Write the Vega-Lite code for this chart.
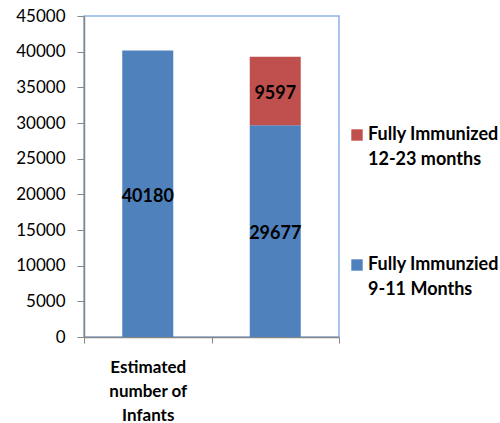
{
  "$schema": "https://vega.github.io/schema/vega-lite/v6.json",
  "autosize": {"type": "none"},
  "padding": {"left": 84, "top": 16, "right": 161, "bottom": 86},
  "width": 255,
  "height": 321,
  "background": "white",
  "config": {
    "font": "Lato",
    "view": {"stroke": "#8DB3E2", "strokeWidth": 1.5},
    "style": {"guide-label": {"lineHeight": 25}}
  },
  "data": {
    "values": [
      {"category": "Estimated number of Infants", "series": "Fully Immunzied 9-11 Months", "value": 40180},
      {"category": "Immunized", "series": "Fully Immunzied 9-11 Months", "value": 29677},
      {"category": "Immunized", "series": "Fully Immunized 12-23 months", "value": 9597}
    ]
  },
  "transform": [
    {"stack": "value", "groupby": ["category"], "as": ["v0", "v1"], "sort": [{"field": "series", "order": "descending"}]}
  ],
  "encoding": {
    "x": {
      "field": "category",
      "type": "nominal",
      "sort": null,
      "scale": {"paddingInner": 0, "paddingOuter": 0},
      "axis": {
        "title": null,
        "labelAngle": 0,
        "tickBand": "extent",
        "domainColor": "#868686",
        "domainWidth": 1.5,
        "tickColor": "#868686",
        "tickSize": 6,
        "labelFont": "Lato",
        "labelFontWeight": "bold",
        "labelFontSize": 17,
        "labelColor": "black",
        "labelPadding": 16,
        "labelLineHeight": 24,
        "labelBaseline": "top",
        "labelExpr": "datum.value == 'Estimated number of Infants' ? ['Estimated', 'number of', 'Infants'] : ''"
      }
    }
  },
  "layer": [
    {
      "mark": {"type": "bar", "width": {"band": 0.4}},
      "encoding": {
        "y": {
          "field": "v0",
          "type": "quantitative",
          "scale": {"domain": [0, 45000], "nice": false},
          "axis": {
            "title": null,
            "grid": false,
            "values": [0, 5000, 10000, 15000, 20000, 25000, 30000, 35000, 40000, 45000],
            "domainColor": "#868686",
            "domainWidth": 1.5,
            "tickColor": "#868686",
            "tickSize": 7,
            "labelPadding": 12,
            "labelFont": "Lato",
            "labelFontSize": 17,
            "labelColor": "black",
            "labelLineHeight": 17,
            "format": "d"
          }
        },
        "y2": {"field": "v1"},
        "color": {
          "field": "series",
          "type": "nominal",
          "scale": {
            "domain": ["Fully Immunized 12-23 months", "Fully Immunzied 9-11 Months"],
            "range": ["#C0504D", "#4F81BD"]
          },
          "legend": {
            "title": null,
            "orient": "none",
            "legendX": 264,
            "legendY": 110,
            "symbolType": "square",
            "symbolSize": 130,
            "symbolStrokeWidth": 0,
            "labelFont": "Lato",
            "labelFontWeight": "bold",
            "labelFontSize": 18,
            "labelColor": "black",
            "labelLimit": 300,
            "labelOffset": 2,
            "rowPadding": 87,
            "labelExpr": "datum.label == 'Fully Immunized 12-23 months' ? ['Fully Immunized', '12-23 months'] : ['Fully Immunzied', '9-11 Months']"
          }
        }
      }
    },
    {
      "transform": [
        {"fold": ["v0", "v1"], "as": ["edge", "pos"]},
        {"aggregate": [{"op": "mean", "field": "pos", "as": "mid"}], "groupby": ["category", "series", "value"]}
      ],
      "mark": {"type": "text", "font": "Lato", "fontWeight": "bold", "fontSize": 18, "color": "black", "baseline": "middle", "dy": 3},
      "encoding": {
        "y": {
          "field": "mid",
          "type": "quantitative",
          "scale": {"domain": [0, 45000], "nice": false},
          "axis": {
            "title": null,
            "grid": false,
            "values": [0, 5000, 10000, 15000, 20000, 25000, 30000, 35000, 40000, 45000],
            "domainColor": "#868686",
            "domainWidth": 1.5,
            "tickColor": "#868686",
            "tickSize": 7,
            "labelPadding": 12,
            "labelFont": "Lato",
            "labelFontSize": 17,
            "labelColor": "black",
            "labelLineHeight": 17,
            "format": "d"
          }
        },
        "text": {"field": "value", "type": "quantitative", "format": "d"}
      }
    }
  ]
}
